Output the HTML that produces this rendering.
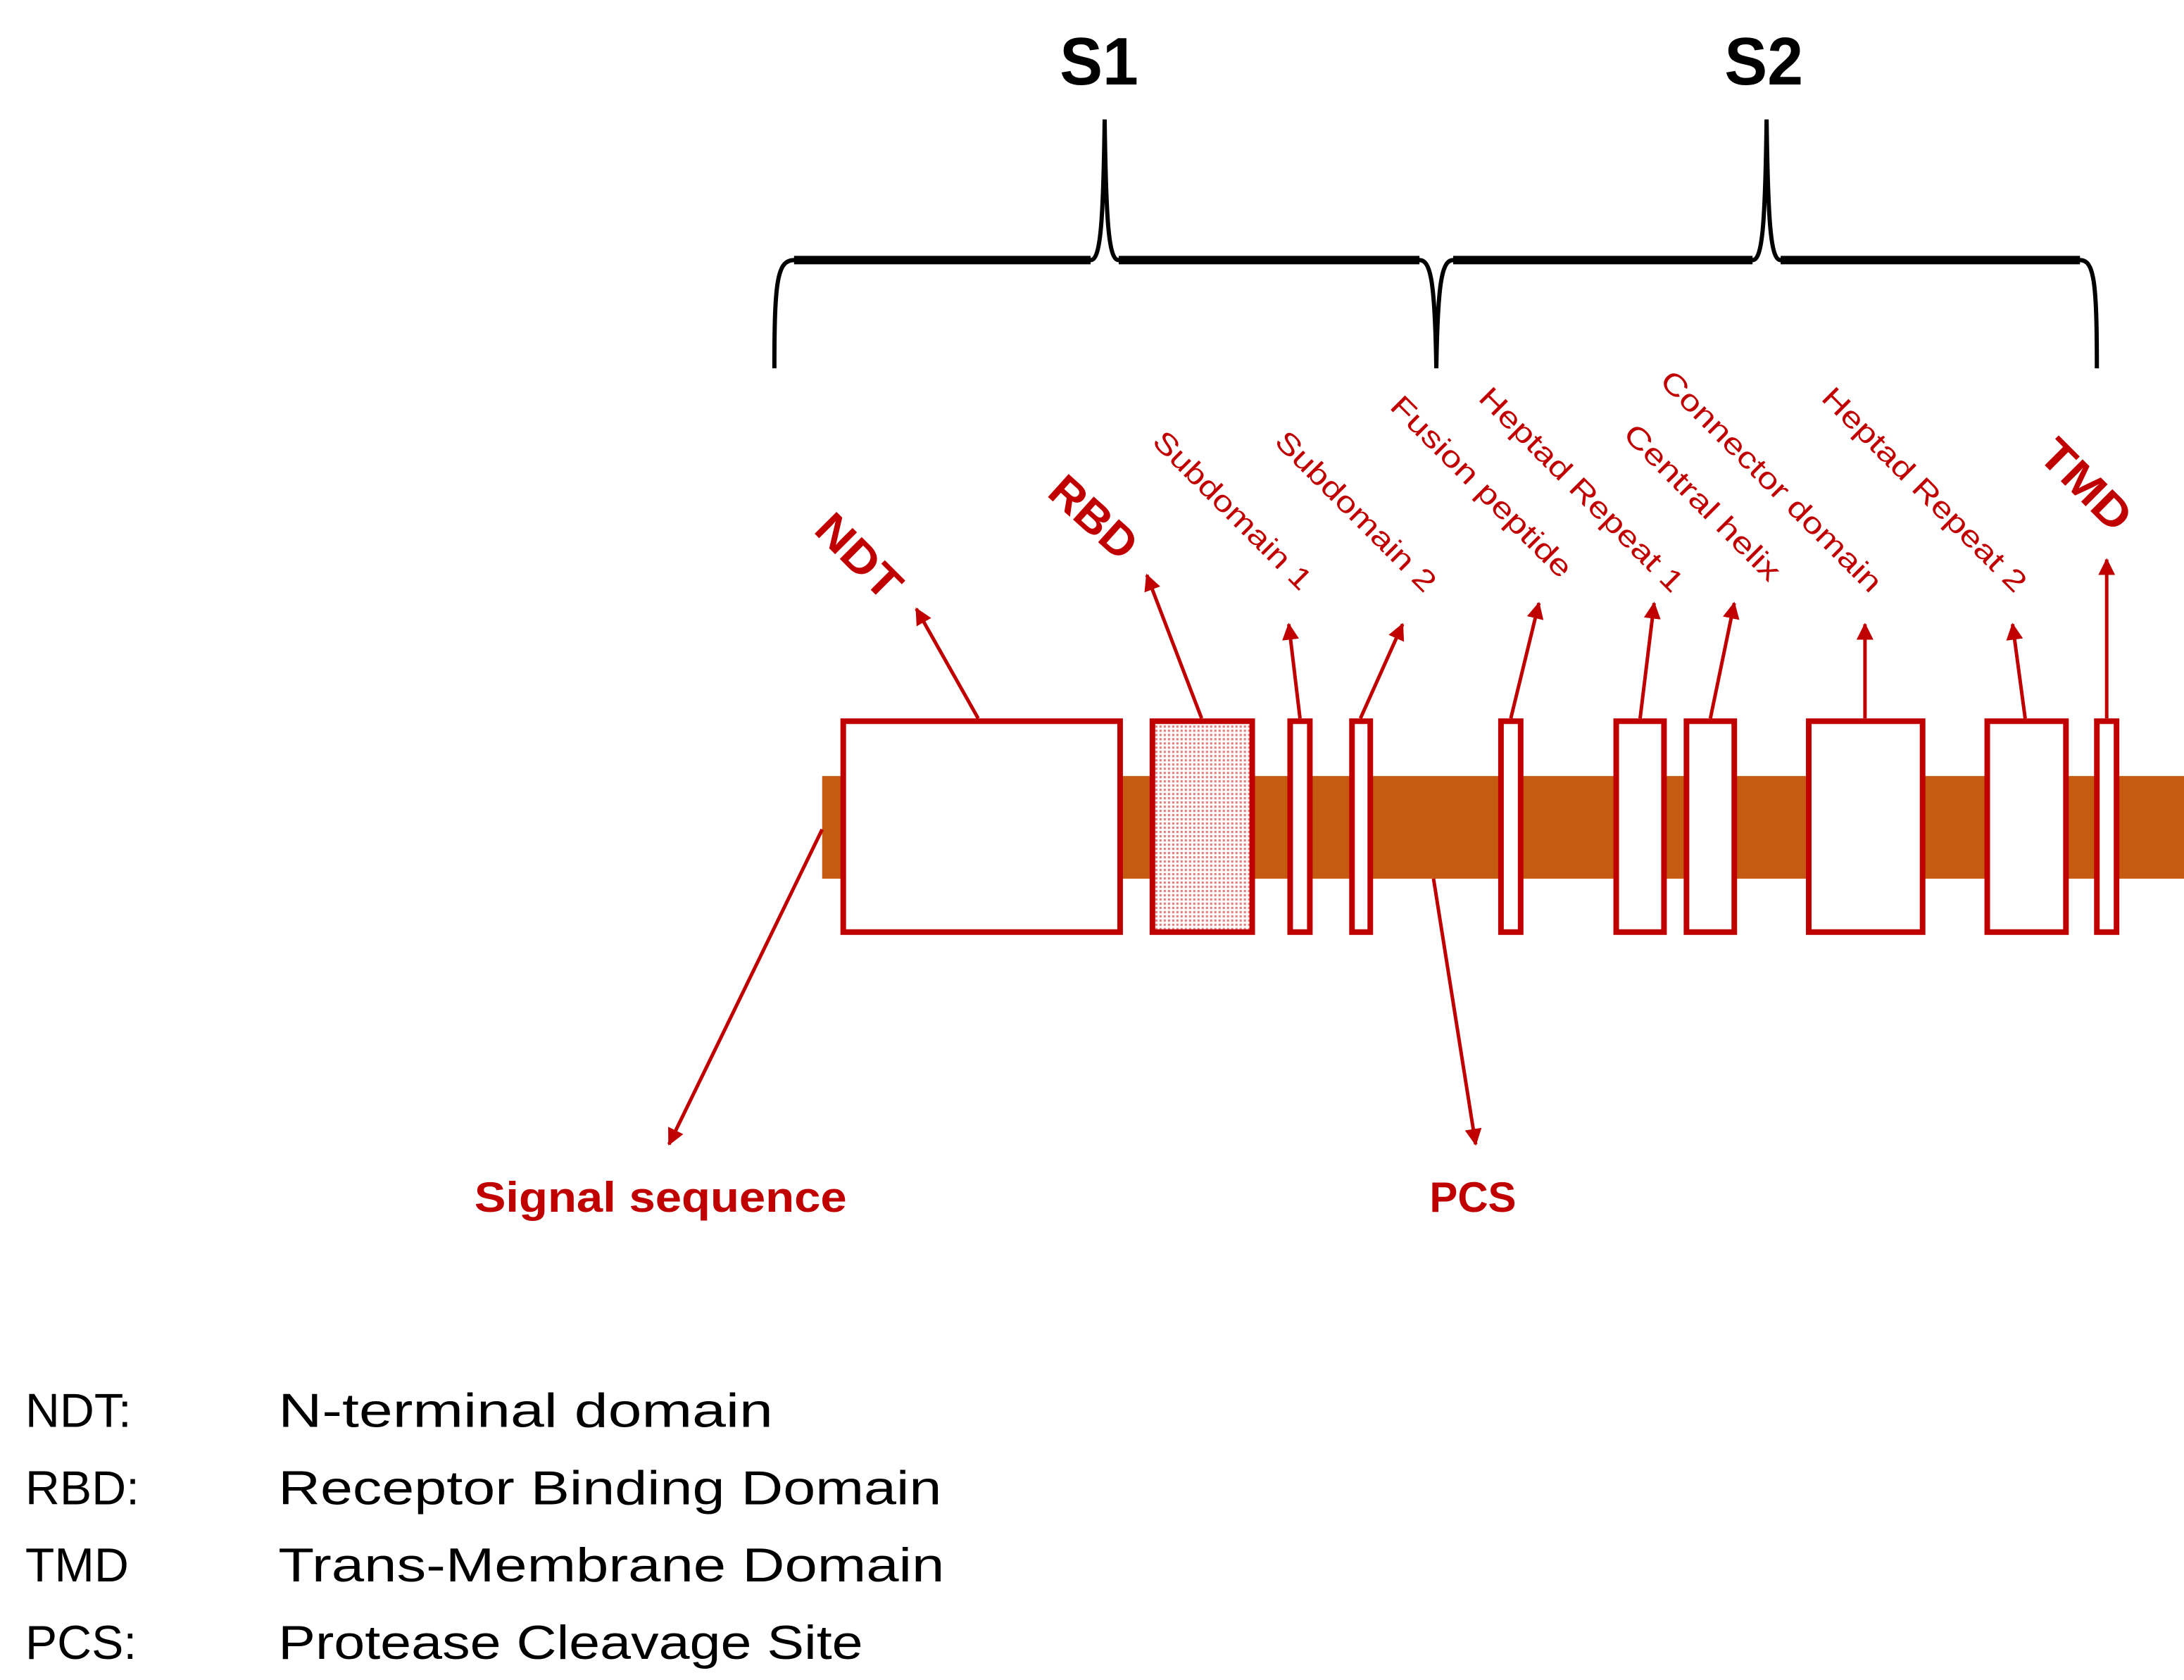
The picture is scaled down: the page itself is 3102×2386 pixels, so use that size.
<!DOCTYPE html>
<html><head><meta charset="utf-8"><style>
html,body{margin:0;padding:0;background:#fff;}
svg{display:block;}
</style></head><body>
<svg width="3102" height="2386" viewBox="0 0 1554 1195" preserveAspectRatio="none" xmlns="http://www.w3.org/2000/svg">
<defs>
<pattern id="dots" width="3" height="3" patternUnits="userSpaceOnUse">
<rect width="3" height="3" fill="#fff"/><rect width="1.6" height="1.6" fill="#e08080"/>
</pattern>
<marker id="ah" markerWidth="12" markerHeight="12" refX="11" refY="6" orient="auto" markerUnits="userSpaceOnUse" viewBox="0 0 12 12">
<path d="M0,0 L12,6 L0,12 z" fill="#c00000"/>
</marker>
</defs>
<g font-family="Liberation Sans, sans-serif">
<text x="782" y="60" font-size="48" font-weight="bold" text-anchor="middle" fill="#000" textLength="56" lengthAdjust="spacingAndGlyphs">S1</text>
<text x="1255" y="60" font-size="48" font-weight="bold" text-anchor="middle" fill="#000" textLength="56" lengthAdjust="spacingAndGlyphs">S2</text>
<path d="M551,262 C551,200 553,185 565,185 L776,185 C783,185 785,160 786,85 C787,160 789,185 796,185 L1010,185 C1018,185 1021,200 1022,262 C1023,200 1026,185 1034,185 L1247,185 C1254,185 1256,160 1257,85 C1258,160 1260,185 1267,185 L1480,185 C1490,185 1492,200 1492,262" fill="none" stroke="#000" stroke-width="3"/>
<path d="M565,185 L776,185 M796,185 L1010,185 M1034,185 L1247,185 M1267,185 L1480,185" stroke="#000" stroke-width="6" fill="none"/>
<rect x="585" y="552" width="970" height="73" fill="#c55a11"/>
<g stroke="#c00000" stroke-width="4" fill="#fff">
<rect x="600" y="513" width="197" height="150"/>
<rect x="820" y="513" width="71" height="150" fill="url(#dots)"/>
<rect x="918" y="513" width="14" height="150"/>
<rect x="962" y="513" width="13" height="150"/>
<rect x="1068" y="513" width="14" height="150"/>
<rect x="1150" y="513" width="34" height="150"/>
<rect x="1200" y="513" width="34" height="150"/>
<rect x="1287" y="513" width="81" height="150"/>
<rect x="1414" y="513" width="56" height="150"/>
<rect x="1492" y="513" width="14" height="150"/>
</g>
<g stroke="#c00000" stroke-width="2.5" marker-end="url(#ah)">
<line x1="696" y1="511" x2="652" y2="433"/>
<line x1="855" y1="511" x2="816" y2="409"/>
<line x1="925" y1="511" x2="917" y2="444"/>
<line x1="968" y1="511" x2="998" y2="444"/>
<line x1="1075" y1="511" x2="1095" y2="429"/>
<line x1="1167" y1="511" x2="1177" y2="429"/>
<line x1="1217" y1="511" x2="1234" y2="429"/>
<line x1="1327" y1="511" x2="1327" y2="444"/>
<line x1="1441" y1="511" x2="1432" y2="444"/>
<line x1="1499" y1="511" x2="1499" y2="398"/>
<line x1="585" y1="590" x2="476" y2="814"/>
<line x1="1020" y1="625" x2="1050" y2="814"/>
</g>
<g fill="#c00000">
<text transform="translate(578,378) rotate(45)" font-size="32" font-weight="bold" textLength="72" lengthAdjust="spacingAndGlyphs">NDT</text>
<text transform="translate(744,352) rotate(42)" font-size="32" font-weight="bold" textLength="72" lengthAdjust="spacingAndGlyphs">RBD</text>
<text transform="translate(1449,325) rotate(45)" font-size="32" font-weight="bold" textLength="78" lengthAdjust="spacingAndGlyphs">TMD</text>
<g font-size="21">
<text transform="translate(819,315) rotate(45)" textLength="150" lengthAdjust="spacingAndGlyphs">Subdomain 1</text>
<text transform="translate(906,315) rotate(45)" textLength="152" lengthAdjust="spacingAndGlyphs">Subdomain 2</text>
<text transform="translate(988,290) rotate(45)" textLength="173" lengthAdjust="spacingAndGlyphs">Fusion peptide</text>
<text transform="translate(1051,284) rotate(45)" textLength="196" lengthAdjust="spacingAndGlyphs">Heptad Repeat 1</text>
<text transform="translate(1154,310) rotate(45)" textLength="148" lengthAdjust="spacingAndGlyphs">Central helix</text>
<text transform="translate(1180,272) rotate(45)" textLength="213" lengthAdjust="spacingAndGlyphs">Connector domain</text>
<text transform="translate(1295,284) rotate(45)" textLength="196" lengthAdjust="spacingAndGlyphs">Heptad Repeat 2</text>
</g>
<text x="470" y="862" font-size="30" font-weight="bold" text-anchor="middle" textLength="265" lengthAdjust="spacingAndGlyphs">Signal sequence</text>
<text x="1048" y="862" font-size="30" font-weight="bold" text-anchor="middle">PCS</text>
</g>
<g font-size="34" fill="#000">
<text x="18" y="1015">NDT:</text><text x="198" y="1015" textLength="352" lengthAdjust="spacingAndGlyphs">N-terminal domain</text>
<text x="18" y="1070">RBD:</text><text x="198" y="1070" textLength="472" lengthAdjust="spacingAndGlyphs">Receptor Binding Domain</text>
<text x="18" y="1125">TMD</text><text x="198" y="1125" textLength="474" lengthAdjust="spacingAndGlyphs">Trans-Membrane Domain</text>
<text x="18" y="1180">PCS:</text><text x="198" y="1180" textLength="416" lengthAdjust="spacingAndGlyphs">Protease Cleavage Site</text>
</g>
</g>
</svg>
</body></html>
